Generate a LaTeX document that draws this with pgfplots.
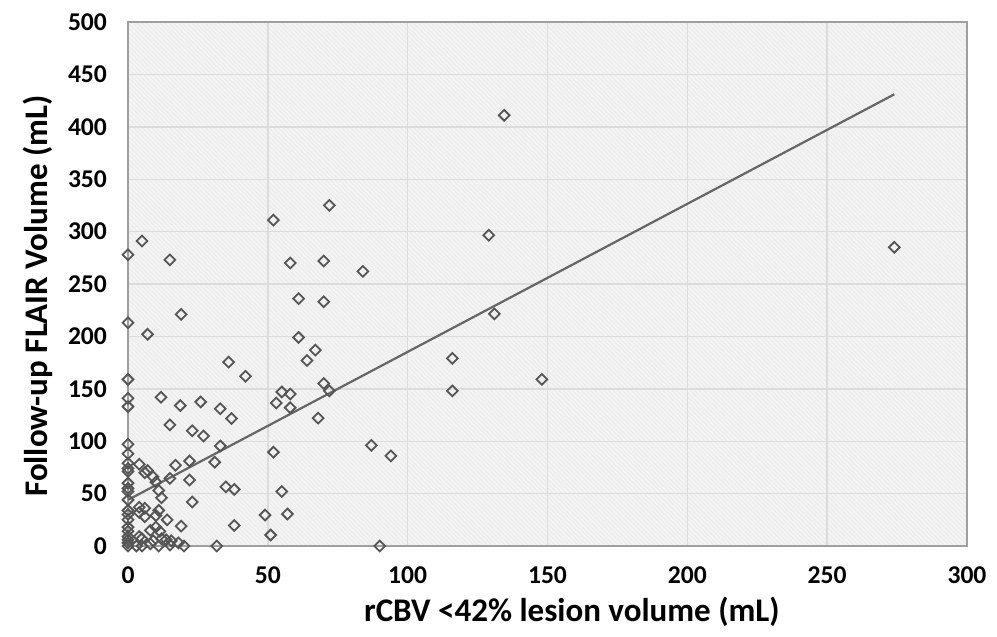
\documentclass[border=0pt]{standalone}
\usepackage{pgfplots}
\pgfplotsset{compat=1.18}
\usepackage{fontspec}
\setmainfont{Carlito}
\usetikzlibrary{patterns.meta}
\definecolor{markgray}{HTML}{555555}
\definecolor{fitgray}{HTML}{666666}
\definecolor{gridgray}{HTML}{DCDCDC}
\definecolor{bggray}{HTML}{F3F3F3}

\begin{document}
\begin{tikzpicture}
\useasboundingbox (-64pt,-45.5pt) rectangle (434.5pt,273pt);
\begin{axis}[
    scale only axis,
    width=419.5pt, height=262pt,
    xmin=0, xmax=300, ymin=0, ymax=500,
    xtick={0,50,...,300},
    ytick={0,50,...,500},
    grid=major,
    major grid style={gridgray, line width=0.7pt},
    axis line style={gray!75, line width=0.8pt},
    tick style={draw=none},
    axis background/.style={fill=bggray,
        postaction={pattern={Lines[angle=-45,distance=1.6pt,line width=0.35pt]}, pattern color=gray!16}},
    /pgf/number format/assume math mode=true,
    ticklabel style={font=\fontsize{12.8}{14}\selectfont\bfseries, text=black},
    xticklabel style={yshift=-7pt},
    yticklabel style={xshift=-7pt},
    xlabel={rCBV <42\% lesion volume (mL)},
    ylabel={Follow-up FLAIR Volume (mL)},
    label style={font=\fontsize{16.5}{18}\selectfont\bfseries},
    xlabel style={at={(axis description cs:0.529,-0.126)}, anchor=center},
    ylabel style={at={(axis description cs:-0.107,0.477)}, anchor=center},
    clip=false,
]
% linear fit
\addplot[fitgray, line width=1.1pt] coordinates {(0,44) (274,431)};
% observations
\addplot[only marks, mark=square, mark size=1.9pt,
    mark options={draw=markgray, fill=white, line width=0.9pt, rotate=45}] coordinates {
(0,278) (0,213) (0,159) (0,141) (0,133) (0,97) (0,88) (0,79) (0,74) (0,71)
(0,60) (0,55) (0,52) (0,44) (0,34) (0,30) (0,25) (0,18) (0,14) (0,9) (0,6) (0,3) (0,0)
(3,0) (5,0) (4,9) (5,7) (9,5) (12,7) (13.7,6) (15.5,5) (18,3) (20,0) (11,0) (15,1) (8,2)
(4,78) (6,70) (7,72) (9,66) (10,61) (17,77) (22,81) (15,64.5) (22,63) (11,53) (12,46)
(23,42) (4,37) (6,36) (4,32) (6,28) (11,34) (10,29) (14,25) (19,19) (10,18) (8,15)
(11.4,14) (31.7,0)
(5,291) (15,273) (7,202) (19,221) (11.8,142) (18.7,134) (26,137.5) (33,131) (37,121.6)
(15,115.6) (23,110) (27,105) (33,95.5) (31,80) (36,175.5) (42,162)
(52,311) (72,325) (58,270) (70,272) (84,262) (61,236) (70,233) (61,199) (67,187)
(64,177) (70,155) (72,148) (55,147) (58,145) (53,136.5) (58,132) (68,122) (52,89.5)
(35,56.5) (38,54) (55,52) (49,29.5) (57,30.5) (38,19.5) (51,10.5) (87,96) (94,86) (90,0)
(134.5,411) (129,296.5) (131,221.5) (116,179) (116,148) (148,159) (274,285)
};
\end{axis}
\end{tikzpicture}
\end{document}
